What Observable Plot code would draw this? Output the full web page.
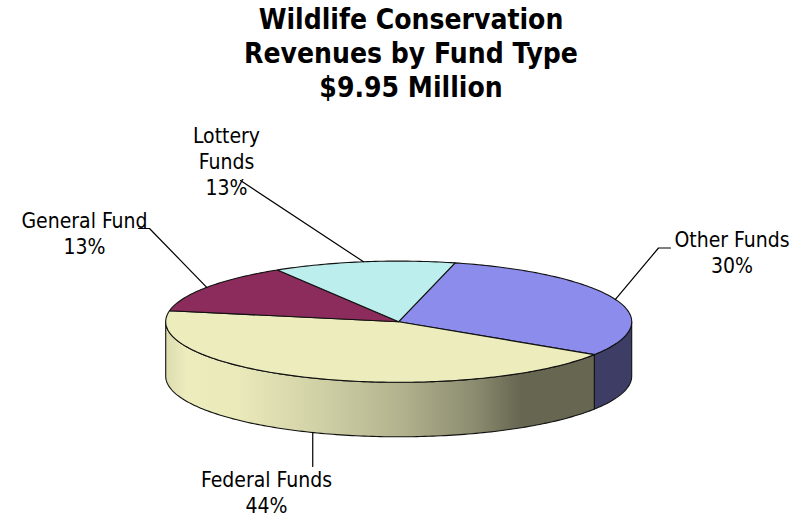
<!DOCTYPE html>
<html>
<head>
<meta charset="utf-8">
<script src="https://cdn.jsdelivr.net/npm/d3@7"></script>
<script src="https://cdn.jsdelivr.net/npm/@observablehq/plot@0.6"></script>
<style>
  html, body { margin: 0; padding: 0; background: #fff; overflow: hidden; }
  #title { width: 808px; box-sizing: border-box; padding-left: 14px; height: 105px; padding-top: 3px;
    text-align: center; font: bold 28px/34px "DejaVu Sans Condensed", "DejaVu Sans", sans-serif; font-stretch: condensed; color: #000; }
  svg { display: block; }
</style>
</head>
<body>
<div id="title">Wildlife Conservation<br>Revenues by Fund Type<br>$9.95 Million</div>
<div id="chart"></div>
<script>
// Data, in drawing order (clockwise from the back of the pie)
const funds = ["Other Funds", "Federal Funds", "General Fund", "Lottery Funds"];
const shares = [30.25, 43.75, 13.4, 12.6];
const labelNames = ["Other Funds", "Federal Funds", "General Fund", "Lottery\nFunds"];
const topColors = ["#8C8CEC", "#ECECBD", "#8B2C5C", "#BDEEEE"];

// Pie geometry (units of the x radius / y radius on the two scales)
const W = 808, T = 105, H = 516 - T, CX = 398.2, CY = 321.2 - T, RX = 233, RY = 60.6, DEPTH = 54.5 / RY;
const START = -76;
const rad = d => d * Math.PI / 180;
const ex = t => Math.cos(rad(t));
const ey = t => Math.sin(rad(t));
const arcRange = (a, b) => { const n = Math.max(2, Math.ceil(Math.abs(b - a))); return d3.range(n + 1).map(i => a + (b - a) * i / n); };

let acc = START;
const slices = funds.map((fund, i) => {
  const a0 = acc, a1 = acc + shares[i] * 3.6;
  acc = a1;
  return { fund, share: Math.round(shares[i]), label: labelNames[i], a0, a1, mid: (a0 + a1) / 2 };
});

const tops = slices.flatMap(s => [
  { fund: s.fund, x: 0, y: 0 },
  ...arcRange(s.a0, s.a1).map(t => ({ fund: s.fund, x: ex(t), y: ey(t) })),
  { fund: s.fund, x: 0, y: 0 }
]);

const wall = (a, b) => {
  const arc = arcRange(a, b);
  const pts = [...arc.map(t => ({ x: ex(t), y: ey(t) })), ...arc.slice().reverse().map(t => ({ x: ex(t), y: ey(t) + DEPTH }))];
  pts.push(pts[0]);
  return pts;
};
const [other, federal, general, lottery] = slices;
const otherWall = wall(0, other.a1);
const federalWall = wall(federal.a0, 180);

// Leader lines: start on the pie rim at each slice's middle, end beside its label
const rim = (s, drop = 0) => ({ x: ex(s.mid), y: ey(s.mid) + drop });
const u = (px, py) => ({ x: (px - CX) / RX, y: (py - T - CY) / RY });
const leaders = [
  [rim(other), u(658, 247.5), u(670, 247.5)],
  [rim(federal, DEPTH), { x: ex(federal.mid), y: u(0, 466).y }],
  [rim(general), u(149, 228), u(138, 228)],
  [rim(lottery), u(240, 180)]
].flatMap((pts, i) => pts.map(p => ({ ...p, k: i })));

const labelAt = [u(731.5, 251.5), u(266, 491.5), u(84, 232.5), u(226, 160)];
const labels = slices.map((s, i) => ({ ...labelAt[i], text: `${s.label}\n${s.share}%` }));

const gradient = () => {
  const svgNS = "http://www.w3.org/2000/svg";
  const defs = document.createElementNS(svgNS, "defs");
  const g = document.createElementNS(svgNS, "linearGradient");
  g.setAttribute("id", "fedSide");
  g.setAttribute("x1", "0"); g.setAttribute("x2", "1"); g.setAttribute("y1", "0"); g.setAttribute("y2", "0");
  [[0, "#DCDCB0"], [0.05, "#ECECBD"], [0.17, "#E9E9BA"], [0.37, "#CFCFA5"], [0.55, "#B2B28E"],
   [0.72, "#8C8C70"], [0.83, "#666651"], [1, "#666651"]].forEach(([o, c]) => {
    const st = document.createElementNS(svgNS, "stop");
    st.setAttribute("offset", o); st.setAttribute("stop-color", c);
    g.appendChild(st);
  });
  defs.appendChild(g);
  return defs;
};

const font = '"DejaVu Sans Condensed", "DejaVu Sans", sans-serif';

const chart = Plot.plot({
  width: W, height: H,
  margin: 0,
  style: { background: "transparent" },
  x: { type: "linear", domain: [-CX / RX, (W - CX) / RX], range: [0, W], axis: null },
  y: { type: "linear", domain: [-CY / RY, (H - CY) / RY], range: [0, H], axis: null },
  color: { domain: funds, range: topColors },
  marks: [
    gradient,
    Plot.line(otherWall, { x: "x", y: "y", fill: "#3D3D66", stroke: "#111", strokeWidth: 1.1 }),
    Plot.line(federalWall, { x: "x", y: "y", fill: "url(#fedSide)", stroke: "#111", strokeWidth: 1.1 }),
    Plot.line(tops, { x: "x", y: "y", z: "fund", fill: "fund", stroke: "#111", strokeWidth: 1.1 }),
    Plot.line(leaders, { x: "x", y: "y", z: "k", stroke: "#000", strokeWidth: 1.2 }),
    Plot.text(labels, { x: "x", y: "y", text: "text", fontFamily: font, fontSize: 21, lineHeight: 1.24, fill: "#000", textAnchor: "middle" })
  ]
});
document.getElementById("chart").appendChild(chart);
</script>
</body>
</html>
